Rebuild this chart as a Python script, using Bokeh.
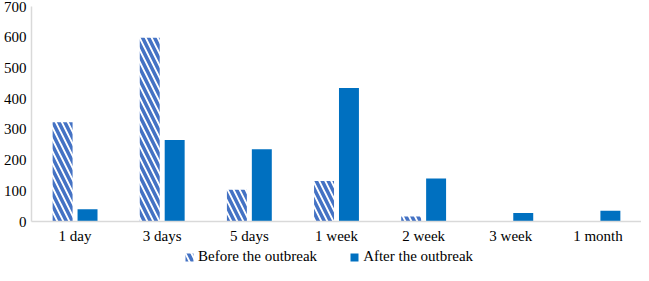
from bokeh.plotting import figure
from bokeh.models import ColumnDataSource, FactorRange, Range1d, FixedTicker, Legend, LegendItem
from bokeh.layouts import column
from bokeh.transform import dodge
from bokeh.embed import file_html
from bokeh.resources import INLINE

categories = ["1 day", "3 days", "5 days", "1 week", "2 week", "3 week", "1 month"]
before = [323, 598, 103, 132, 16, 1, 2]
after = [40, 265, 235, 435, 140, 28, 35]
y_ticks = [0, 100, 200, 300, 400, 500, 600, 700]
series_names = ["Before the outbreak", "After the outbreak"]

HATCH = dict(fill_color="white", line_color=None, hatch_pattern="\\", hatch_color="#4472C4",
             hatch_weight=3.5, hatch_scale=12)
SOLID = dict(fill_color="#0070C0", line_color=None)

src = ColumnDataSource(dict(cat=categories, before=before, after=after))

p = figure(x_range=FactorRange(*categories), y_range=Range1d(0, 700),
           width=641, height=246, output_backend="svg", toolbar_location=None,
           min_border_left=28, min_border_right=0, min_border_top=6, min_border_bottom=0)

p.vbar(x=dodge("cat", -0.143, range=p.x_range), top="before", width=0.229, source=src, **HATCH)
p.vbar(x=dodge("cat", 0.143, range=p.x_range), top="after", width=0.229, source=src, **SOLID)

p.outline_line_color = None
p.xgrid.grid_line_color = None
p.ygrid.grid_line_color = None
p.yaxis.ticker = FixedTicker(ticks=y_ticks)
for ax in (p.xaxis[0], p.yaxis[0]):
    ax.axis_line_color = "#D9D9D9"
    ax.axis_line_width = 1.5
    ax.major_tick_line_color = None
    ax.minor_tick_line_color = None
    ax.major_tick_in = 0
    ax.major_tick_out = 0
    ax.minor_tick_out = 0
    ax.major_label_text_font = "Liberation Serif"
    ax.major_label_text_font_size = "15px"
    ax.major_label_text_color = "#000000"
p.yaxis.major_label_standoff = 5
p.xaxis.major_label_standoff = 6
p.x_range.range_padding = 0
p.x_range.group_padding = 0

# legend strip below the chart (its renderers are hidden; only the legend is drawn)
lg = figure(width=641, height=19, output_backend="svg", toolbar_location=None,
            x_range=FactorRange(*categories), y_range=Range1d(0, 700),
            x_axis_type=None, y_axis_type=None, min_border=0, outline_line_color=None)
lg.xgrid.grid_line_color = None
lg.ygrid.grid_line_color = None
l1 = lg.vbar(x="cat", top="before", width=0.2, source=src, visible=False, **HATCH)
l2 = lg.vbar(x="cat", top="after", width=0.2, source=src, visible=False, **SOLID)
legend = Legend(items=[LegendItem(label=series_names[0], renderers=[l1]),
                       LegendItem(label=series_names[1], renderers=[l2])],
                orientation="horizontal", location=(153, 0),
                border_line_color=None, background_fill_alpha=0,
                inactive_fill_alpha=0,
                label_text_font="Liberation Serif", label_text_font_size="15px",
                label_text_color="#000000",
                label_height=17, glyph_width=10, glyph_height=10,
                spacing=32, padding=0, margin=0, label_standoff=4)
lg.add_layout(legend)

open("out.html", "w").write(file_html(column(p, lg, spacing=0), INLINE))
